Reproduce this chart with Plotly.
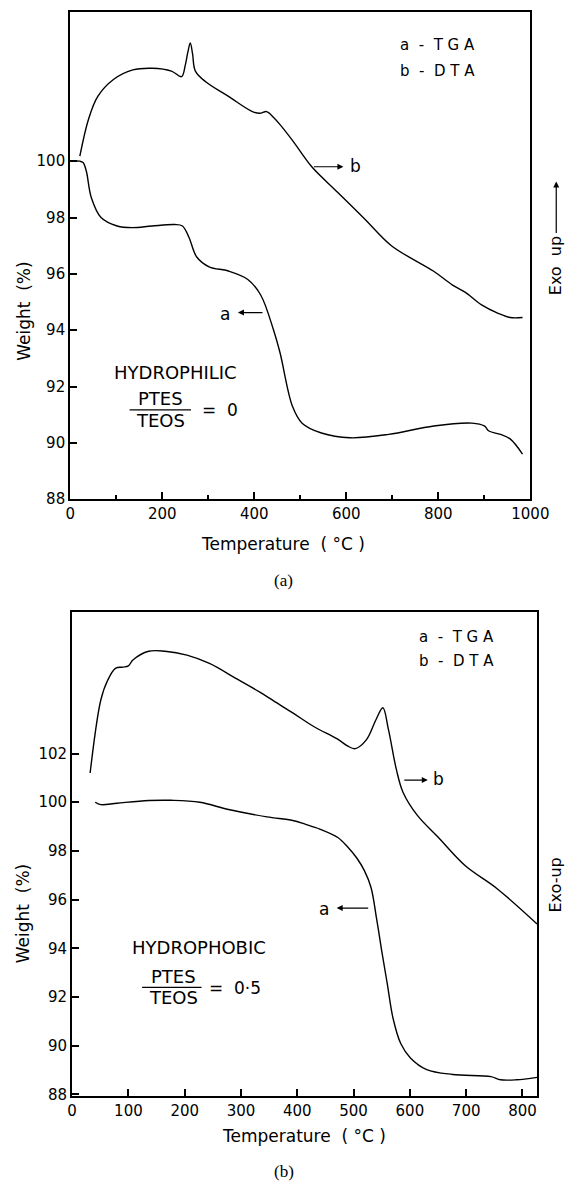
import plotly.graph_objects as go

# ---------------- data: panel (a) hydrophilic ----------------
a_tga_T = [0, 21, 28, 35, 46, 67, 102, 135, 178, 227, 244, 258, 275, 302, 344, 386, 414,
           442, 456, 483, 504, 546, 608, 692, 790, 873, 900, 910, 935, 956, 983]
a_tga_W = [100.0, 100.0, 99.95, 99.65, 98.7, 98.0, 97.7, 97.64, 97.7, 97.75, 97.7, 97.3, 96.6,
           96.25, 96.1, 95.8, 95.25, 94.0, 93.2, 91.3, 90.7, 90.35, 90.18, 90.3, 90.6, 90.7,
           90.6, 90.42, 90.3, 90.14, 89.6]
a_dta_T = [21, 40, 60, 94, 136, 178, 220, 242, 250, 256, 261, 266, 272, 296, 344, 396, 412,
           427, 442, 456, 483, 525, 581, 640, 698, 789, 831, 858, 894, 930, 956, 983]
a_dta_S = [100.18, 101.5, 102.3, 102.9, 103.24, 103.3, 103.2, 103.0, 103.4, 103.9, 104.2,
           103.8, 103.2, 102.8, 102.3, 101.76, 101.7, 101.76, 101.55, 101.3, 100.74, 99.8,
           98.9, 97.95, 97.0, 96.1, 95.6, 95.35, 94.9, 94.6, 94.45, 94.45]

# ---------------- data: panel (b) hydrophobic ----------------
b_tga_T = [41, 51, 80, 136, 176, 227, 278, 346, 392, 414, 440, 472, 490, 506, 519, 531, 541,
           550, 560, 570, 584, 601, 630, 676, 744, 761, 789, 826]
b_tga_W = [100.0, 99.9, 99.96, 100.07, 100.08, 100.0, 99.7, 99.4, 99.25, 99.1, 98.9, 98.55,
           98.15, 97.7, 97.2, 96.5, 95.2, 93.9, 92.53, 91.14, 90.08, 89.5, 89.02, 88.82,
           88.73, 88.6, 88.6, 88.7]
b_dta_T = [32, 51, 63, 77, 90, 100, 108, 136, 165, 204, 244, 290, 335, 358, 392, 430, 471,
           490, 503, 523, 540, 552, 562, 576, 588, 613, 650, 698, 755, 826]
b_dta_S = [101.2, 104.2, 105.0, 105.5, 105.55, 105.6, 105.84, 106.2, 106.2, 106.04, 105.7,
           105.1, 104.5, 104.16, 103.67, 103.1, 102.6, 102.3, 102.2, 102.57, 103.4, 103.88,
           102.98, 101.35, 100.4, 99.47, 98.57, 97.4, 96.45, 95.0]

a_xticks = [0, 200, 400, 600, 800, 1000]
a_yticks = [88, 90, 92, 94, 96, 98, 100]
b_xticks = [0, 100, 200, 300, 400, 500, 600, 700, 800]
b_yticks = [88, 90, 92, 94, 96, 98, 100, 102]

W, H = 581, 1188
FONT = "DejaVu Sans"
def fx(px): return px / W
def fy(py): return 1 - py / H

line = dict(color="black", width=1.4)
fig = go.Figure()
fig.add_trace(go.Scatter(x=a_tga_T, y=a_tga_W, mode="lines", line=line, line_shape="spline",
                         xaxis="x", yaxis="y", name="a - TGA"))
fig.add_trace(go.Scatter(x=a_dta_T, y=a_dta_S, mode="lines", line=line, line_shape="spline",
                         xaxis="x", yaxis="y3", name="b - DTA"))
fig.add_trace(go.Scatter(x=b_tga_T, y=b_tga_W, mode="lines", line=line, line_shape="spline",
                         xaxis="x2", yaxis="y2", name="a - TGA"))
fig.add_trace(go.Scatter(x=b_dta_T, y=b_dta_S, mode="lines", line=line, line_shape="spline",
                         xaxis="x2", yaxis="y4", name="b - DTA"))

axcommon = dict(showline=True, linecolor="black", linewidth=2, mirror=True, ticks="inside",
                ticklen=7, tickwidth=1.5, tickcolor="black", showgrid=False, zeroline=False,
                tickfont=dict(family=FONT, size=15, color="black"))
a_range = [88, 105.3]
b_range = [87.95, 107.8]
fig.update_layout(
    width=W, height=H, margin=dict(l=0, r=0, t=0, b=0),
    paper_bgcolor="white", plot_bgcolor="white", showlegend=False,
    xaxis=dict(domain=[fx(68), fx(548)], range=[0, 1000], tickvals=a_xticks, anchor="y",
               minor=dict(tickvals=[100, 300, 500, 700, 900], ticks="inside", ticklen=4,
                          tickcolor="black"), **axcommon),
    yaxis=dict(domain=[fy(503), fy(12)], range=a_range, tickvals=a_yticks, anchor="x", **axcommon),
    yaxis3=dict(overlaying="y", anchor="x", side="right", range=a_range, showticklabels=False,
                showline=False, showgrid=False, zeroline=False, ticks=""),
    xaxis2=dict(domain=[fx(70), fx(555)], range=[0, 826], tickvals=b_xticks, anchor="y2",
                **axcommon),
    yaxis2=dict(domain=[fy(1104), fy(617)], range=b_range, tickvals=b_yticks, anchor="x2",
                **axcommon),
    yaxis4=dict(overlaying="y2", anchor="x2", side="right", range=b_range, showticklabels=False,
                showline=False, showgrid=False, zeroline=False, ticks=""),
)

ann = []
def txt(px, py, s, size=15, angle=0, family=FONT, xanchor="center"):
    ann.append(dict(x=fx(px), y=fy(py), xref="paper", yref="paper", text=s, showarrow=False,
                    textangle=angle, xanchor=xanchor, yanchor="middle",
                    font=dict(family=family, size=size, color="black")))
def arrow(x_head, y_head, x_tail, y_tail, head=2):
    ann.append(dict(x=fx(x_head), y=fy(y_head), xref="paper", yref="paper", text="",
                    showarrow=True, ax=x_tail - x_head, ay=y_tail - y_head, arrowhead=head,
                    arrowsize=1, arrowwidth=1.2, arrowcolor="black"))

# panel (a)
txt(451, 45, "a  -  T G A")
txt(451, 72, "b  -  D T A")
arrow(353, 168, 322, 168); txt(366, 167, "b", size=17)
arrow(243, 315, 269, 315); txt(230, 316, "a", size=17)
txt(178, 375, "HYDROPHILIC", size=18)
txt(162, 402, "PTES", size=18); txt(162, 424, "TEOS", size=18)
txt(203, 413, "=  0", size=17, xanchor="left")
txt(19, 314, "Weight  (%)", size=17, angle=-90)
txt(290, 548, "Temperature  ( °C )", size=17)
txt(575, 268, "Exo  up", size=16, angle=-90)
arrow(575, 183, 575, 236)
txt(291, 585, "(a)", size=17, family="Liberation Serif")

# panel (b)
txt(471, 642, "a  -  T G A")
txt(471, 666, "b  -  D T A")
arrow(441, 786, 416, 786); txt(452, 785, "b", size=17)
arrow(346, 915, 379, 915); txt(333, 916, "a", size=17)
txt(202, 955, "HYDROPHOBIC", size=18)
txt(176, 984, "PTES", size=18); txt(176, 1005, "TEOS", size=18)
txt(211, 996, "=  0·5", size=17, xanchor="left")
txt(19, 921, "Weight  (%)", size=17, angle=-90)
txt(312, 1145, "Temperature  ( °C )", size=17)
txt(574, 892, "Exo-up", size=16, angle=-90)
txt(291, 1180, "(b)", size=17, family="Liberation Serif")

fig.update_layout(annotations=ann, shapes=[
    dict(type="line", xref="paper", yref="paper", x0=fx(130), x1=fx(194), y0=fy(413), y1=fy(413),
         line=dict(color="black", width=1.3)),
    dict(type="line", xref="paper", yref="paper", x0=fx(143), x1=fx(205), y0=fy(995), y1=fy(995),
         line=dict(color="black", width=1.3)),
])

fig.write_html("out.html")
